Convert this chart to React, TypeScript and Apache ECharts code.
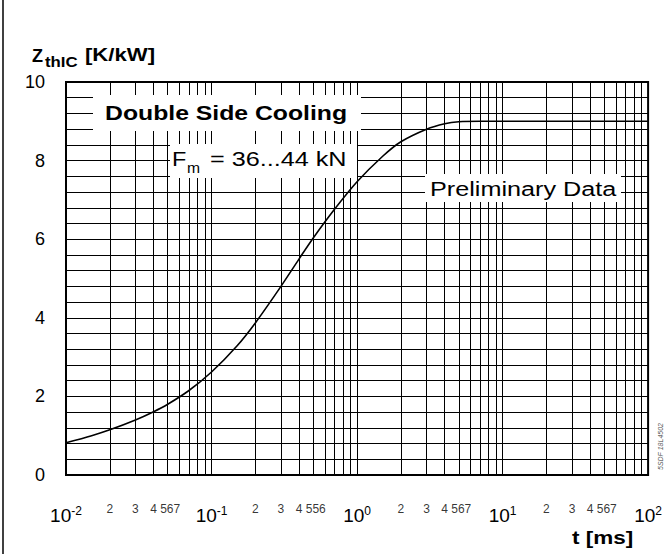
import React, { useEffect, useRef } from "react";
import * as echarts from "echarts";

// Transient thermal impedance curve
const tValues = [0.01, 0.015, 0.02, 0.03, 0.04, 0.05, 0.07, 0.1, 0.15, 0.2, 0.3, 0.4, 0.5, 0.7, 1, 1.5, 2, 3, 4, 5, 7, 10, 100];
const zValues = [0.82, 1.0, 1.15, 1.4, 1.61, 1.8, 2.15, 2.62, 3.29, 3.87, 4.8, 5.5, 6.03, 6.76, 7.46, 8.11, 8.48, 8.8, 8.94, 8.99, 9.0, 9.0, 9.0];

// Minor vertical grid positions (2..9 in each decade)
const minorGridValues = [
  0.02, 0.03, 0.04, 0.05, 0.06, 0.07, 0.08, 0.09,
  0.2, 0.3, 0.4, 0.5, 0.6, 0.7, 0.8, 0.9,
  2, 3, 4, 5, 6, 7, 8, 9,
  20, 30, 40, 50, 60, 70, 80, 90,
];

// Minor tick labels below the axis
const minorLabelValues = [0.02, 0.03, 0.04, 0.052, 0.2, 0.3, 0.4, 0.52, 2, 3, 4, 5.2, 20, 30, 40, 52];
const minorLabelTexts = ["2", "3", "4", "567", "2", "3", "4", "556", "2", "3", "4", "567", "2", "3", "4", "567"];

const yTicks = [0, 2, 4, 6, 8, 10];

const FONT = '"Liberation Sans", Arial, Helvetica, sans-serif';

function txt(text: string, x: number, y: number, font: string, scaleX = 1, z = 4) {
  return {
    type: "text",
    z,
    x,
    y,
    scaleX,
    style: { text, font, fill: "#000", textAlign: "left", textVerticalAlign: "top" },
  };
}

export default function App() {
  const ref = useRef<HTMLDivElement>(null);

  useEffect(() => {
    if (!ref.current) return;
    const chart = echarts.init(ref.current, undefined, { renderer: "svg" });

    const option: any = {
      animation: false,
      backgroundColor: "#ffffff",
      textStyle: { fontFamily: FONT },
      grid: {
        left: 66,
        right: 12,
        top: 82,
        bottom: 79,
        show: true,
        borderColor: "#000",
        borderWidth: 2,
        backgroundColor: "transparent",
      },
      xAxis: {
        type: "log",
        logBase: 10,
        min: 0.01,
        max: 100,
        axisLine: { show: true, lineStyle: { color: "#000", width: 2 } },
        axisTick: { show: false },
        splitLine: { show: true, lineStyle: { color: "#000", width: 1 } },
        axisLabel: {
          margin: 30,
          color: "#000",
          formatter: (v: number) => {
            const e = Math.round(Math.log10(v));
            return `{b|10}{s|${e}}`;
          },
          rich: {
            b: { fontSize: 19, fontFamily: FONT, color: "#000", lineHeight: 20, verticalAlign: "bottom" },
            s: { fontSize: 12, fontFamily: FONT, color: "#000", lineHeight: 20, verticalAlign: "top" },
          },
        },
      },
      yAxis: {
        type: "value",
        min: 0,
        max: 10,
        interval: 2,
        axisLine: { show: true, lineStyle: { color: "#000", width: 2 } },
        axisTick: { show: false },
        splitLine: { show: true, lineStyle: { color: "#000", width: 1 } },
        minorTick: { show: false, splitNumber: 5 },
        minorSplitLine: { show: true, lineStyle: { color: "#000", width: 1 } },
        axisLabel: {
          margin: 21,
          color: "#000",
          fontSize: 18,
          fontFamily: FONT,
          formatter: (v: number) => (yTicks.includes(v) ? String(v) : ""),
        },
      },
      series: [
        {
          type: "line",
          name: "grid",
          data: [],
          z: 1,
          silent: true,
          markLine: {
            z: 1,
            silent: true,
            symbol: ["none", "none"],
            label: { show: false },
            lineStyle: { color: "#000", width: 1, type: "solid" },
            data: minorGridValues.map((v) => ({ xAxis: v })),
          },
        },
        {
          type: "scatter",
          name: "minorLabels",
          z: 2,
          silent: true,
          clip: false,
          symbolSize: 1,
          itemStyle: { color: "rgba(0,0,0,0)" },
          data: minorLabelValues.map((v, i) => ({ value: [v, 0], name: minorLabelTexts[i] })),
          label: {
            show: true,
            position: "inside",
            offset: [0, 34],
            formatter: (p: any) => p.name,
            fontSize: 12,
            fontFamily: FONT,
            color: "#000",
          },
        },
        {
          type: "line",
          name: "Zth",
          z: 10,
          smooth: 0.3,
          showSymbol: false,
          silent: true,
          lineStyle: { color: "#000", width: 1.6 },
          data: tValues.map((t, i) => [t, zValues[i]]),
        },
      ],
      graphic: [
        // outer left frame line
        { type: "line", z: 3, shape: { x1: 3, y1: 0, x2: 3, y2: 554 }, style: { stroke: "#000", lineWidth: 1.5 } },
        // axis titles
        txt("Z", 32, 47, `bold 18px ${FONT}`),
        txt("thIC", 45, 55, `bold 14px ${FONT}`, 1.2),
        txt("[K/kW]", 85, 46, `bold 18px ${FONT}`, 1.23),
        txt("t [ms]", 572, 529, `bold 18px ${FONT}`, 1.25),
        // Double Side Cooling box
        { type: "rect", z: 3, shape: { x: 93, y: 95, width: 268, height: 36 }, style: { fill: "#fff" } },
        txt("Double Side Cooling", 105, 102, `bold 21px ${FONT}`, 1.18),
        // F_m box
        { type: "rect", z: 3, shape: { x: 170, y: 144, width: 187, height: 34 }, style: { fill: "#fff" } },
        txt("F", 172, 148, `21px ${FONT}`, 1.12),
        txt("m", 187, 161, `14px ${FONT}`, 1.12),
        txt("= 36...44 kN", 210, 148, `21px ${FONT}`, 1.2),
        // Preliminary Data box
        { type: "rect", z: 3, shape: { x: 425, y: 174, width: 196, height: 28 }, style: { fill: "#fff" } },
        txt("Preliminary Data", 430, 178, `21px ${FONT}`, 1.2),
        // document code rotated
        {
          type: "text",
          z: 4,
          x: 657,
          y: 470,
          rotation: Math.PI / 2,
          style: { text: "5SDF 18L4502", font: `italic 7px ${FONT}`, fill: "#555", textAlign: "left", textVerticalAlign: "top" },
        },
      ],
    };

    chart.setOption(option);
    return () => chart.dispose();
  }, []);

  return (
    <div
      ref={ref}
      style={{ position: "fixed", left: 0, top: 0, width: 665, height: 554, background: "#fff" }}
    />
  );
}
